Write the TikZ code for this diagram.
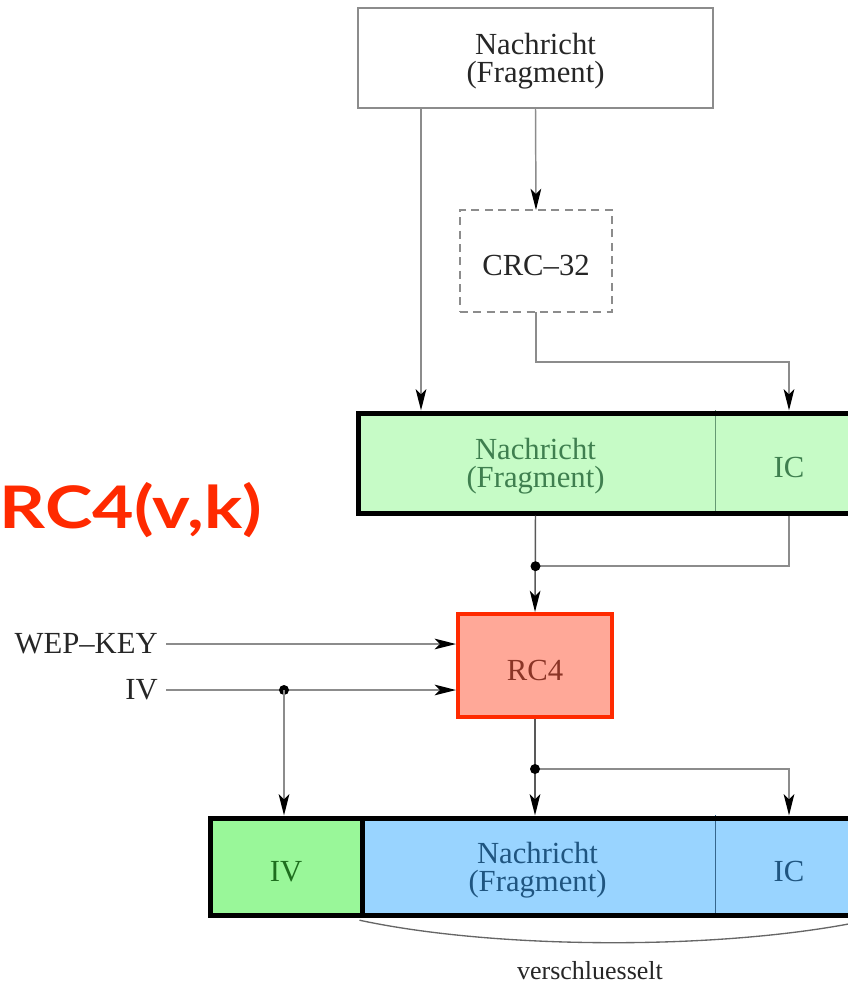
\documentclass[tikz,border=0pt]{standalone}
\usepackage{fontspec}
\setmainfont{Liberation Serif}
\newfontfamily\headfont{Lato}
\usetikzlibrary{arrows.meta}
\definecolor{wire}{HTML}{8C8C8C}
\definecolor{msggreen}{HTML}{C6FBC6}
\definecolor{msgblue}{HTML}{99D4FF}
\definecolor{ivgreen}{HTML}{99F799}
\definecolor{rcfill}{HTML}{FFA898}
\definecolor{rcred}{HTML}{FF2A00}
\definecolor{greentext}{HTML}{3F7F4F}
\definecolor{bluetext}{HTML}{1F5580}
\definecolor{ivtext}{HTML}{1E6E1E}
\definecolor{rctext}{HTML}{8A3426}
\tikzset{
  every node/.style={font=\fontsize{23}{21}\selectfont, align=center},
  oneline/.style={text height=22pt, text depth=0pt},
  twoline/.style={text depth=-10pt},
  box/.style={rectangle, minimum height=75pt, inner sep=0pt, outer sep=0pt},
  cell/.style={box, minimum height=75pt, outer sep=1.9pt},
  conn/.style={draw=wire, line width=1.1pt},
  arr/.style={conn, -{Stealth[length=16pt, width=8pt, inset=4pt, black]}},
  dot/.style={circle, fill=black, inner sep=0pt, minimum size=7.5pt},
  frame/.style={draw=black, line width=3.75pt},
}
\begin{document}
\begin{tikzpicture}[x=0.75pt, y=-0.75pt]
\useasboundingbox (0,0) rectangle (848,986);
\clip (0,0) rectangle (848,986);

% plaintext fragment and checksum
\node[box, twoline, draw=wire, line width=1pt, minimum width=266.25pt, text=black!85] (msg) at (535.5,58) {Nachricht\\(Fragment)};
\node[box, oneline, draw=wire, dashed, dash pattern=on 6pt off 4pt, line width=1pt, minimum width=114pt, minimum height=76.5pt, text=black!85] (crc) at (536,261) {CRC--32};

% plaintext with integrity check
\node[cell, twoline, fill=msggreen, minimum width=266.25pt, text=greentext] (gmsg) at (535.5,463) {Nachricht\\(Fragment)};
\node[cell, oneline, fill=msggreen, minimum width=114pt, text=greentext] (gic) at (789,463) {IC};
\draw[draw=greentext!80, line width=1pt] (gmsg.north east) -- (gmsg.south east);
\draw[frame] ([shift={(1.9pt,-1.9pt)}]gmsg.north west) rectangle ([shift={(-1.9pt,1.9pt)}]gic.south east);

% cipher
\node[box, oneline, fill=rcfill, draw=rcred, line width=3pt, minimum width=115.5pt, minimum height=77.25pt, text=rctext, outer sep=1.5pt] (rc) at (535,665.5) {RC4};

% inputs
\node[anchor=east, inner xsep=6pt, text=black!85] (wep) at (166,644) {WEP--KEY};
\node[anchor=east, inner xsep=6pt, text=black!85] (ivin) at (166,690) {IV};

% transmitted frame
\node[cell, oneline, fill=ivgreen, minimum width=114pt, minimum height=72.75pt, text=ivtext] (biv) at (286,866.5) {IV};
\node[cell, twoline, fill=msgblue, minimum width=263.25pt, minimum height=72.75pt, text=bluetext] (bmsg) at (537.5,866.5) {Nachricht\\(Fragment)};
\node[cell, oneline, fill=msgblue, minimum width=114pt, minimum height=72.75pt, text=bluetext] (bic) at (789,866.5) {IC};
\draw[draw=bluetext!90, line width=1pt] (bmsg.north east) -- (bmsg.south east);
\draw[frame] ([shift={(1.9pt,-1.9pt)}]biv.north west) rectangle ([shift={(-1.9pt,1.9pt)}]biv.south east);
\draw[frame] ([shift={(1.9pt,-1.9pt)}]bmsg.north west) rectangle ([shift={(-1.9pt,1.9pt)}]bic.south east);

% connectors, top part
\draw[arr] (msg.south west) ++(63,0) coordinate (m1) -- (m1 |- gmsg.north);
\draw[arr] (msg.south) -- (crc.north);
\coordinate (c1) at ([yshift=-37.5pt]crc.south);
\draw[arr] (crc.south) -- (c1) -- (c1 -| gic.north) -- (gic.north);

% into the cipher
\coordinate (j1) at ([yshift=-38pt]gmsg.south);
\draw[conn] (gic.south) -- (gic.south |- j1) -- (j1);
\draw[arr, draw=black!65] (gmsg.south) -- (rc.north);
\node[dot] (j1dot) at (j1) {};
\draw[arr] (wep.east) -- (wep.east -| rc.west);
\draw[arr] (ivin.east) -- (ivin.east -| rc.west);
\node[dot] (ivdot) at (284,690) {};
\draw[arr] (ivdot.center) -- (ivdot.center |- biv.north);

% out of the cipher
\coordinate (j2) at ([yshift=-37.5pt]rc.south);
\draw[arr, draw=black!65] (rc.south) -- (rc.south |- bmsg.north);
\draw[arr] (j2) -- (j2 -| bic.north) -- (bic.north);
\node[dot] (j2dot) at (j2) {};

% encrypted span
\draw[conn, line width=1pt, draw=black!60] ([yshift=-2pt]bmsg.south west) .. controls +(140,30) and +(-140,30) .. ([yshift=-2pt]bic.south east);
\node[text=black!85, font=\fontsize{19.5}{20}\selectfont] (enc) at (590,971) {verschluesselt};

% caption
\node[font=\headfont\bfseries\fontsize{44}{44}\selectfont, text=rcred] (title) at (131,510) {\scalebox{1.22}[1]{RC4(v,k)}};
\end{tikzpicture}
\end{document}
